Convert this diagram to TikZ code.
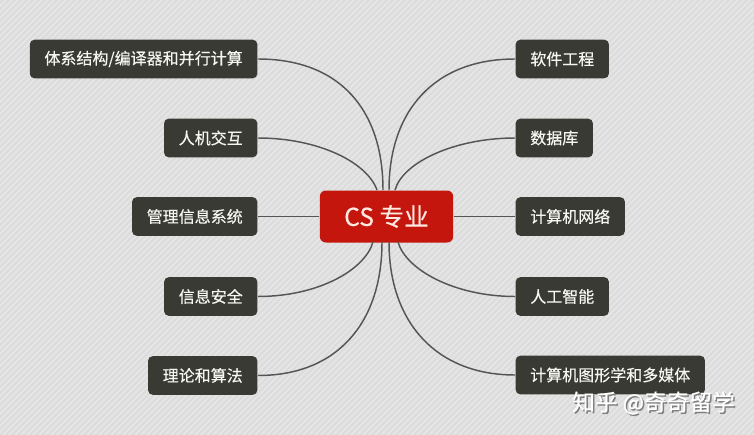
\documentclass[tikz,border=0pt]{standalone}
\usepackage{fontspec}
\setmainfont{Noto Sans CJK SC}
\newfontfamily\topicfont[FakeBold=0.4]{Noto Sans CJK SC}
\definecolor{bggray}{RGB}{220,220,220}
\definecolor{stripegray}{RGB}{229,229,229}
\definecolor{topicdark}{RGB}{58,58,53}
\definecolor{topictext}{RGB}{246,246,240}
\definecolor{csred}{RGB}{196,22,12}
\definecolor{cstext}{RGB}{255,232,226}
\definecolor{linkgray}{RGB}{85,85,85}
\tikzset{every picture/.style={line width=0.9pt}}
\tikzset{
  topic/.style={fill=topicdark, text=topictext, rounded corners=3.5pt, minimum height=29pt, inner xsep=11pt, font=\topicfont\fontsize{12}{14}\selectfont},
  centre/.style={fill=csred, text=cstext, rounded corners=4.5pt, minimum width=100pt, minimum height=39pt, font=\topicfont\fontsize{18.5}{22}\selectfont},
  link/.style={draw=linkgray, line width=1.1pt},
  stripe/.style={draw=stripegray, line width=1.4pt}
}

\begin{document}
\begin{tikzpicture}[x=0.75pt,y=0.75pt,yscale=-1,xscale=1]
\useasboundingbox (0,0) rectangle (754,435);

%Background
\fill[bggray] (0,0) rectangle (754,435);
\begin{scope}
\clip (0,0) rectangle (754,435);
\foreach \i in {0,6,...,1200} {
  \draw[stripe] (\i,0) -- (\i-435,435);
}
\end{scope}

% Centre Node
\node[centre] (cs) at (386.5,216.5) {CS 专业};

% Left Nodes
\node[topic, anchor=east] (arch) at (258,59) {体系结构/编译器和并行计算};
\node[topic, anchor=east] (hci) at (258,138) {人机交互};
\node[topic, anchor=east] (mis) at (258,216.5) {管理信息系统};
\node[topic, anchor=east] (sec) at (258,296.5) {信息安全};
\node[topic, anchor=east] (theory) at (258,375.5) {理论和算法};

% Right Nodes
\node[topic, anchor=west] (se) at (515,59) {软件工程};
\node[topic, anchor=west] (db) at (515,138) {数据库};
\node[topic, anchor=west] (net) at (515,216.5) {计算机网络};
\node[topic, anchor=west] (ai) at (515,296.5) {人工智能};
\node[topic, anchor=west] (cg) at (515,375) {计算机图形学和多媒体};

%Ends on the centre node
\coordinate (t1) at (377,190);
\coordinate (t2) at (383,190);
\coordinate (t3) at (389,190);
\coordinate (t4) at (395,190);
\coordinate (b1) at (373,242);
\coordinate (b2) at (382,242);
\coordinate (b3) at (389,242);
\coordinate (b4) at (398,242);

%Curve Lines
\draw[link] (arch.east) .. controls (340,59) and (383,110) .. (t2);
\draw[link] (hci.east) .. controls (318,138) and (367,162) .. (t1);
\draw[link] (mis.east) -- (cs.west);
\draw[link] (sec.east) .. controls (318,296.5) and (365,270) .. (b1);
\draw[link] (theory.east) .. controls (338,375.5) and (382,322) .. (b2);
\draw[link] (se.west) .. controls (435,59) and (389,110) .. (t3);
\draw[link] (db.west) .. controls (455,138) and (403,162) .. (t4);
\draw[link] (net.west) -- (cs.east);
\draw[link] (ai.west) .. controls (455,296.5) and (406,270) .. (b4);
\draw[link] (cg.west) .. controls (436,375) and (389,322) .. (b3);

% Text Node
\node[text=gray, font=\topicfont\fontsize{17}{20}\selectfont] (markshadow) at (655,404.5) {知乎 @奇奇留学};
\node[text=white, font=\topicfont\fontsize{17}{20}\selectfont] (mark) at (653.5,403) {知乎 @奇奇留学};

\end{tikzpicture}
\end{document}
